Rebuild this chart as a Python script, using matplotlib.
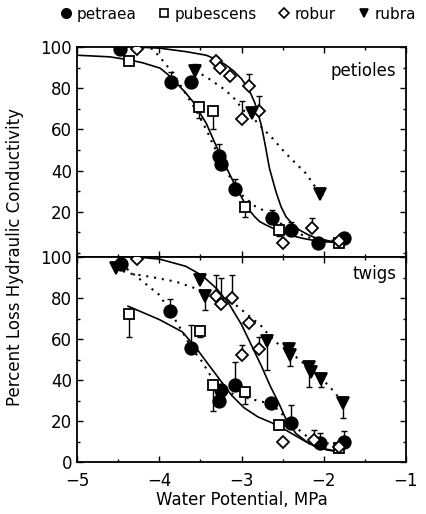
import matplotlib
matplotlib.use("Agg")
import matplotlib.pyplot as plt
from matplotlib.lines import Line2D
from matplotlib.ticker import MultipleLocator

# ---- petioles (top panel) ----
pet_petraea_x = [-4.48, -3.86, -3.61, -3.28, -3.25, -3.08, -2.63, -2.40, -2.07, -1.75]
pet_petraea_y = [99, 83, 83, 47, 43, 31, 17, 11, 5, 7]
pet_petraea_up = [0, 5, 0, 6, 0, 5, 4, 4, 0, 0]

pet_pubescens_x = [-4.37, -3.52, -3.35, -2.96, -2.55, -1.81]
pet_pubescens_y = [93, 71, 69, 22.5, 11, 5]
pet_pubescens_dn = [0, 5.5, 9, 5, 3, 0]

pet_robur_x = [-4.27, -3.31, -3.26, -3.14, -3.00, -2.91, -2.79, -2.50, -2.14, -1.81]
pet_robur_y = [99, 93, 90, 86, 65, 81, 69, 5, 12, 6]
pet_robur_up = [0, 2, 0, 0, 9, 6, 7, 0, 5, 0]

pet_rubra_x = [-3.57, -2.87, -2.04]
pet_rubra_y = [88.5, 68, 28.5]
pet_rubra_up = [3, 0, 0]

# curves
pet_fit1_x = [-5.0, -4.6, -4.36, -4.2, -3.99, -3.9, -3.79, -3.69, -3.59, -3.43, -3.27, -3.11,
              -2.94, -2.85, -2.78, -2.70, -2.62, -2.50, -2.38, -2.26, -2.05, -1.81]
pet_fit1_y = [96, 95.2, 93.7, 92.3, 89.7, 86.8, 82.4, 78.2, 73.4, 63, 48.4, 35.4,
              22.5, 18.0, 15.2, 13.5, 12.0, 9.8, 8.3, 7.1, 5.5, 5.0]
pet_fit2_x = [-4.27, -3.99, -3.67, -3.43, -3.31, -3.20, -3.10, -3.00, -2.94, -2.89, -2.84,
              -2.80, -2.76, -2.72, -2.66, -2.58, -2.52, -2.46, -2.38, -2.30, -2.20, -2.09, -1.81]
pet_fit2_y = [100, 99.4, 97.7, 96.0, 94, 91.5, 88.5, 84.5, 81, 77.5, 73,
              68, 62, 54, 41, 29.5, 22.5, 17.6, 14, 11.2, 9, 7.1, 4.8]
pet_dot1_x = [-4.20, -4.08, -3.95, -3.83, -3.69, -3.55, -3.43, -3.35, -3.19, -3.02, -2.85, -2.70, -2.55, -2.40, -2.22, -2.05, -1.80]
pet_dot1_y = [100, 99, 93, 87, 78, 69, 60, 53, 40, 29, 23, 20, 15, 11, 8, 6, 6]
pet_dot2_x = [-3.57, -3.43, -3.23, -3.11, -2.97, -2.87, -2.78, -2.62, -2.50, -2.38, -2.22, -2.04]
pet_dot2_y = [88.5, 85.5, 80, 76, 69, 66, 62, 55.5, 50, 45, 38.7, 28.5]

# ---- twigs (bottom panel) ----
tw_petraea_x = [-4.47, -3.87, -3.61, -3.25, -3.27, -3.08, -2.64, -2.40, -2.05, -1.75]
tw_petraea_y = [96.6, 73.6, 55.7, 35, 30, 37.6, 28.6, 19, 9.4, 10]
tw_petraea_up = [0, 6, 11, 0, 0, 11, 0, 9, 5, 5]

tw_pubescens_x = [-4.37, -3.51, -3.35, -2.96, -2.55, -1.81]
tw_pubescens_y = [72, 64, 37.6, 34, 18, 7]
tw_pubescens_dn = [11, 3, 12.5, 5.5, 0, 0]

tw_robur_x = [-4.27, -3.31, -3.25, -3.12, -2.99, -2.91, -2.79, -2.50, -2.12, -1.81]
tw_robur_y = [99, 81, 77, 80, 52, 68, 55, 10, 11, 7.5]
tw_robur_up = [0, 10, 13, 11, 5, 0, 6, 0, 4.6, 0]

tw_rubra_x = [-4.53, -3.51, -3.45, -2.69, -2.42, -2.41, -2.18, -2.16, -2.03, -1.76]
tw_rubra_y = [94.5, 89, 81, 59, 55, 52, 46.6, 44, 40.5, 28.6]
tw_rubra_dn = [0, 0, 7, 14, 0, 5, 10, 0, 4, 7]

tw_fit1_x = [-4.38, -4.0, -3.72, -3.55, -3.42, -3.27, -3.12, -2.97, -2.80, -2.65, -2.50, -2.35, -2.22, -2.05, -1.81]
tw_fit1_y = [76, 69.5, 63.5, 55.5, 48.5, 40.5, 32.5, 26.5, 22, 19.5, 16.5, 13, 10, 7, 5]
tw_fit2_x = [-4.27, -4.0, -3.68, -3.48, -3.30, -3.15, -3.00, -2.88, -2.76, -2.65, -2.55, -2.46, -2.34, -2.18, -1.97, -1.81]
tw_fit2_y = [100, 99, 95.5, 91, 84.5, 77, 67, 57, 47, 37, 29, 21, 14, 9, 6, 5]
tw_dot1_x = [-4.47, -4.20, -4.00, -3.87, -3.72, -3.61, -3.48, -3.36, -3.25, -3.08, -2.91, -2.75, -2.64, -2.52, -2.40, -2.22, -2.05, -1.90, -1.75]
tw_dot1_y = [96.6, 88, 81.5, 73.6, 63.6, 55.7, 49, 41, 35, 33, 31, 29.4, 28.6, 24, 19, 13, 9.4, 9, 10]
tw_dot2_x = [-4.53, -4.37, -4.12, -3.80, -3.56, -3.32, -3.07, -2.87, -2.75, -2.67, -2.54, -2.42, -2.30, -2.18, -2.03, -1.89, -1.76]
tw_dot2_y = [94.5, 92, 90.4, 88, 84.7, 81.5, 76.6, 70, 66, 62, 57, 54, 50, 46, 41, 35, 28.6]

species = ["petraea", "pubescens", "robur", "rubra"]
markers = {"petraea": ("o", "black", 9), "pubescens": ("s", "white", 7.5),
           "robur": ("D", "white", 6.5), "rubra": ("v", "black", 8)}
dots = (0, (1, 2.8))


def draw_points(ax, name, x, y, lo, hi):
    # one-sided error bars with a cap, then the marker on top
    m, fc, ms = markers[name]
    ax.errorbar(x, y, yerr=[lo, hi], fmt="none", ecolor="black",
                elinewidth=1.0, capsize=2.5, capthick=1.0, zorder=2)
    ax.plot(x, y, ls="none", marker=m, mfc=fc, mec="black", mew=1.3,
            ms=ms, zorder=3)


def style_axes(ax, ymin):
    ax.set_xlim(-5, -1)
    ax.set_ylim(ymin, 100)
    ax.xaxis.set_major_locator(MultipleLocator(1))
    ax.xaxis.set_minor_locator(MultipleLocator(0.5))
    ax.yaxis.set_major_locator(MultipleLocator(20))
    ax.yaxis.set_minor_locator(MultipleLocator(10))
    ax.tick_params(which="both", direction="in", top=True, right=True,
                   labelsize=12, width=1.0)
    ax.tick_params(which="major", length=4)
    ax.tick_params(which="minor", length=2.5)
    ax.tick_params(axis="x", pad=7)
    for s in ax.spines.values():
        s.set_linewidth(1.3)


fig = plt.figure(figsize=(4.26, 5.14), dpi=100)
ax1 = fig.add_axes([0.181, 0.500, 0.772, 0.4086])
ax2 = fig.add_axes([0.181, 0.101, 0.772, 0.399])

z = [0] * 10

# petioles
ax1.plot(pet_fit1_x, pet_fit1_y, color="black", lw=1.2, zorder=1)
ax1.plot(pet_fit2_x, pet_fit2_y, color="black", lw=1.2, zorder=1)
ax1.plot(pet_dot1_x, pet_dot1_y, color="black", lw=1.5, ls=dots, zorder=1)
ax1.plot(pet_dot2_x, pet_dot2_y, color="black", lw=1.5, ls=dots, zorder=1)
draw_points(ax1, "petraea", pet_petraea_x, pet_petraea_y, z[:10], pet_petraea_up)
draw_points(ax1, "pubescens", pet_pubescens_x, pet_pubescens_y, pet_pubescens_dn, z[:6])
draw_points(ax1, "robur", pet_robur_x, pet_robur_y, z[:10], pet_robur_up)
draw_points(ax1, "rubra", pet_rubra_x, pet_rubra_y, z[:3], pet_rubra_up)
style_axes(ax1, -2)
ax1.set_yticks([20, 40, 60, 80, 100])
ax1.tick_params(labelbottom=False)
ax1.text(0.97, 0.93, "petioles", transform=ax1.transAxes, ha="right", va="top", fontsize=12)

# twigs
ax2.plot(tw_fit1_x, tw_fit1_y, color="black", lw=1.2, zorder=1)
ax2.plot(tw_fit2_x, tw_fit2_y, color="black", lw=1.2, zorder=1)
ax2.plot(tw_dot1_x, tw_dot1_y, color="black", lw=1.5, ls=dots, zorder=1)
ax2.plot(tw_dot2_x, tw_dot2_y, color="black", lw=1.5, ls=dots, zorder=1)
draw_points(ax2, "petraea", tw_petraea_x, tw_petraea_y, z[:10], tw_petraea_up)
draw_points(ax2, "pubescens", tw_pubescens_x, tw_pubescens_y, tw_pubescens_dn, z[:6])
draw_points(ax2, "robur", tw_robur_x, tw_robur_y, z[:10], tw_robur_up)
draw_points(ax2, "rubra", tw_rubra_x, tw_rubra_y, tw_rubra_dn, z[:10])
style_axes(ax2, 0)
ax2.text(0.97, 0.96, "twigs", transform=ax2.transAxes, ha="right", va="top", fontsize=12)
ax2.set_xlabel("Water Potential, MPa", fontsize=12, labelpad=1)

fig.text(0.035, 0.5, "Percent Loss Hydraulic Conductivity", rotation=90,
         ha="center", va="center", fontsize=12)

# legend row above the plot
handles = []
for name in species:
    m, fc, ms = markers[name]
    handles.append(Line2D([], [], ls="none", marker=m, mfc=fc, mec="black",
                          mew=1.2, ms=ms * 0.75))
fig.legend(handles, species, loc="upper left", bbox_to_anchor=(0.115, 1.005),
           ncol=4, frameon=False, fontsize=11, handletextpad=0.2,
           columnspacing=1.3, handlelength=1.0, borderaxespad=0.2)

fig.savefig("out.png", dpi=100)
